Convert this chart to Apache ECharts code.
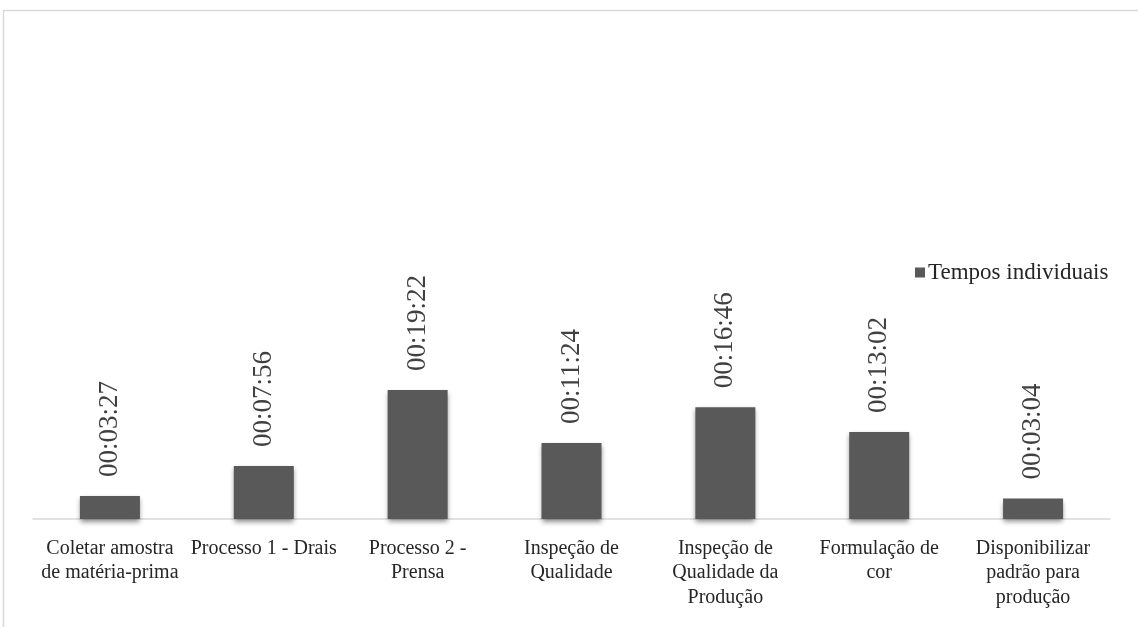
<!DOCTYPE html>
<html>
<head>
<meta charset="utf-8">
<script src="https://cdn.jsdelivr.net/npm/echarts@6/dist/echarts.min.js"></script>
<style>
  html, body { margin: 0; padding: 0; background: #ffffff; }
  #chart { width: 1138px; height: 627px; }
</style>
</head>
<body>
<div id="chart"></div>
<script>
// Process steps (category axis)
const categories = [
  'Coletar amostra\nde matéria-prima',
  'Processo 1 - Drais',
  'Processo 2 -\nPrensa',
  'Inspeção de\nQualidade',
  'Inspeção de\nQualidade da\nProdução',
  'Formulação de\ncor',
  'Disponibilizar\npadrão para\nprodução'
];

// Individual durations, hh:mm:ss
const durations = ['00:03:27', '00:07:56', '00:19:22', '00:11:24', '00:16:46', '00:13:02', '00:03:04'];

const seriesName = 'Tempos individuais';

// Convert hh:mm:ss to seconds for the value axis
function toSeconds(t) {
  const [h, m, s] = t.split(':').map(Number);
  return h * 3600 + m * 60 + s;
}

const values = durations.map(toSeconds);

function fmt(sec) {
  const pad = n => String(n).padStart(2, '0');
  return pad(Math.floor(sec / 3600)) + ':' + pad(Math.floor(sec % 3600 / 60)) + ':' + pad(sec % 60);
}

const serif = '"Liberation Serif", "DejaVu Serif", serif';

const chart = echarts.init(document.getElementById('chart'));
chart.setOption({
  backgroundColor: '#ffffff',
  animation: false,
  graphic: [{
    type: 'rect',
    shape: { x: 3.5, y: 10.5, width: 1300, height: 800 },
    style: { fill: 'none', stroke: '#d9d9d9', lineWidth: 1.5 },
    silent: true
  }],
  legend: {
    data: [seriesName],
    left: 910,
    top: 256,
    itemWidth: 10,
    itemHeight: 10,
    itemGap: 4,
    icon: 'rect',
    textStyle: { fontFamily: serif, fontSize: 23, color: '#262626', padding: [0, 0, 0, -2] }
  },
  grid: { left: 33, right: 28, top: 39, bottom: 108, containLabel: false },
  xAxis: {
    type: 'category',
    data: categories,
    axisTick: { show: false },
    axisLine: { lineStyle: { color: '#d9d9d9', width: 1.5 } },
    axisLabel: {
      interval: 0,
      margin: 17,
      fontFamily: serif,
      fontSize: 20,
      lineHeight: 24.5,
      color: '#262626',
      align: 'center'
    }
  },
  yAxis: {
    type: 'value',
    min: 0,
    max: 4320,
    show: false,
    splitLine: { show: false }
  },
  series: [{
    name: seriesName,
    type: 'bar',
    data: values,
    barWidth: 60,
    itemStyle: {
      color: '#595959',
      shadowColor: 'rgba(0,0,0,0.45)',
      shadowBlur: 5,
      shadowOffsetY: 3
    },
    label: {
      show: true,
      position: 'top',
      distance: 19,
      rotate: 90,
      align: 'left',
      verticalAlign: 'middle',
      fontFamily: serif,
      fontSize: 27,
      color: '#404040',
      formatter: p => fmt(p.value)
    }
  }]
});
</script>
</body>
</html>
